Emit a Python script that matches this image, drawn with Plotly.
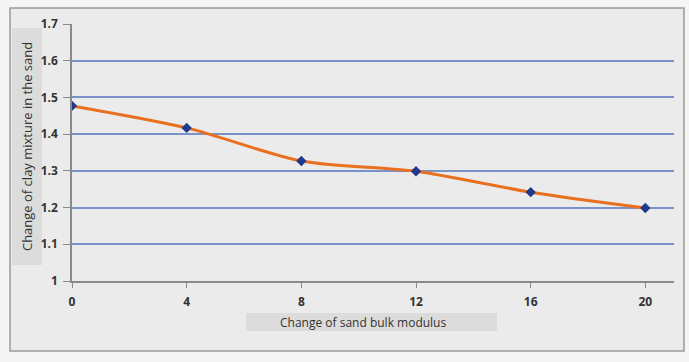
import plotly.graph_objects as go

# Sand bulk modulus change vs. clay mixture change
bulk_modulus = [0, 4, 8, 12, 16, 20]
clay_mixture = [1.477, 1.417, 1.327, 1.299, 1.242, 1.199]
y_ticks = [1, 1.1, 1.2, 1.3, 1.4, 1.5, 1.6, 1.7]
y_tick_text = ["1", "1.1", "1.2", "1.3", "1.4", "1.5", "1.6", "1.7"]
x_ticks = [0, 4, 8, 12, 16, 20]

fig = go.Figure()
fig.add_trace(go.Scatter(
    x=bulk_modulus, y=clay_mixture, mode="lines+markers",
    line=dict(color="#e8701f", width=3, shape="spline", smoothing=0.8),
    marker=dict(symbol="diamond", size=8, color="#1f3a8a"),
    showlegend=False,
))

tick_font = dict(family="Open Sans, DejaVu Sans", size=12, color="#333333", weight="bold")

fig.update_layout(
    width=689, height=362,
    margin=dict(l=72, r=15, t=24, b=81),
    paper_bgcolor="#f5f5f5",
    plot_bgcolor="rgba(0,0,0,0)",
    xaxis=dict(
        range=[0, 21], tickvals=x_ticks, ticks="outside", ticklen=5,
        tickcolor="#8a8a8a", showgrid=False, zeroline=False,
        showline=True, linecolor="#8a8a8a", linewidth=1.5,
        tickfont=tick_font, ticklabelstandoff=4,
    ),
    yaxis=dict(
        range=[1, 1.7], tickvals=y_ticks, ticktext=y_tick_text,
        ticks="outside", ticklen=7, tickcolor="#8a8a8a",
        showgrid=True, gridcolor="#7a92c8", gridwidth=2, zeroline=False,
        showline=True, linecolor="#8a8a8a", linewidth=1.5,
        tickfont=tick_font, ticklabelstandoff=3,
    ),
    shapes=[
        # outer chart frame
        dict(type="rect", xref="paper", yref="paper", layer="below",
             x0=-0.103, x1=1.0166, y0=-0.272, y1=1.062,
             fillcolor="#ebebeb", line=dict(color="#9a9a9a", width=1.5)),
        # y title backdrop
        dict(type="rect", xref="paper", yref="paper", layer="below",
             x0=-0.0997, x1=-0.0498, y0=0.062, y1=0.984,
             fillcolor="#dcdcdc", line=dict(width=0)),
        # x title backdrop
        dict(type="rect", xref="paper", yref="paper", layer="below",
             x0=0.289, x1=0.706, y0=-0.1946, y1=-0.1245,
             fillcolor="#dcdcdc", line=dict(width=0)),
    ],
    annotations=[
        dict(text="Change of clay mixture in the sand", xref="paper", yref="paper",
             x=-0.0748, y=0.525, xanchor="center", yanchor="middle",
             textangle=-90, showarrow=False,
             font=dict(family="Open Sans, DejaVu Sans", size=13, color="#333333")),
        dict(text="Change of sand bulk modulus", xref="paper", yref="paper",
             x=0.483, y=-0.16, xanchor="center", yanchor="middle",
             showarrow=False,
             font=dict(family="Open Sans, DejaVu Sans", size=12, color="#333333")),
    ],
)

fig.write_html("out.html")
